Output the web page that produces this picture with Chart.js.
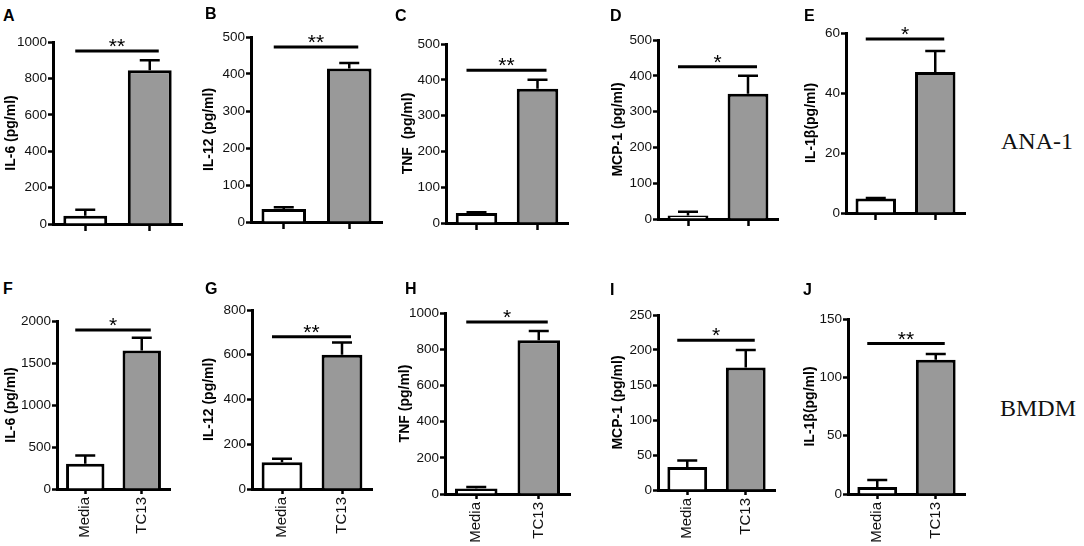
<!DOCTYPE html>
<html>
<head>
<meta charset="utf-8">
<script src="https://cdn.jsdelivr.net/npm/chart.js@4.4.0/dist/chart.umd.min.js"></script>
<style>
  body { margin: 0; background: #fff; width: 1084px; height: 546px; position: relative; overflow: hidden; }
  canvas { position: absolute; }
  .letter { position: absolute; font: bold 16px "Liberation Sans", Arial, sans-serif; line-height: 1; color: #000; }
  .row-label { position: absolute; font: 24px "Liberation Serif", "Times New Roman", serif; line-height: 1; color: #111; }
</style>
</head>
<body>
<div class="row-label" style="left:1001px;top:129px">ANA-1</div>
<div class="row-label" style="left:1000px;top:396px">BMDM</div>
<script>
// data (panels A-J)
const categories = ['Media', 'TC13'];
const panelLetters = ['A', 'B', 'C', 'D', 'E', 'F', 'G', 'H', 'I', 'J'];
const yTitles = ['IL-6 (pg/ml)', 'IL-12 (pg/ml)', 'TNF  (pg/ml)', 'MCP-1 (pg/ml)', 'IL-1\u03b2(pg/ml)',
                 'IL-6 (pg/ml)', 'IL-12 (pg/ml)', 'TNF (pg/ml)', 'MCP-1 (pg/ml)', 'IL-1\u03b2(pg/ml)'];
const meanValues = [[45, 845], [35, 415], [28, 375], [10, 350], [4.8, 47],
                    [300, 1650], [120, 600], [30, 850], [33, 175], [6, 115]];
const semValues = [[33, 55], [5, 15], [2, 25], [10, 50], [0.2, 7],
                   [100, 150], [15, 55], [8, 50], [9, 25], [6, 5]];
const yMax = [1000, 500, 500, 500, 60, 2000, 800, 1000, 250, 150];
const yStep = [200, 100, 100, 100, 20, 500, 200, 200, 50, 50];
const sigStars = ['**', '**', '**', '*', '*', '*', '**', '*', '*', '**'];
const sigLineY = [950, 473, 427, 425, 58, 1893, 680, 950, 214, 129];

// page layout: y-axis x, top tick y, zero y, x-axis end, title offset, letter pos
const frames = [
    { ax: 53,  top: 42,  zero: 224, end: 182, tx: 42, lx: 3,   ly: 10 },
    { ax: 251, top: 37,  zero: 222, end: 382, tx: 42, lx: 205, ly: 8 },
    { ax: 446, top: 44,  zero: 223, end: 568, tx: 38, lx: 395, ly: 10 },
    { ax: 658, top: 40,  zero: 219, end: 778, tx: 40, lx: 610, ly: 10 },
    { ax: 846, top: 33,  zero: 213, end: 965, tx: 35, lx: 804, ly: 10 },
    { ax: 57,  top: 321, zero: 489, end: 170, tx: 46, lx: 3,   ly: 283 },
    { ax: 252, top: 310, zero: 489, end: 372, tx: 43, lx: 205, ly: 283 },
    { ax: 445, top: 313, zero: 494, end: 570, tx: 40, lx: 405, ly: 283 },
    { ax: 658, top: 315, zero: 490, end: 775, tx: 40, lx: 610, ly: 284 },
    { ax: 848, top: 319, zero: 494, end: 965, tx: 38, lx: 803, ly: 284 }
];

const PAD_TOP = 18, PAD_RIGHT = 6;
const FONT = '"Liberation Sans", Arial, sans-serif';
const INK = '#000';

frames.forEach((f, k) => {
    const bottomRow = k >= 5;
    const yw = f.tx + 8;
    const xh = bottomRow ? 56 : 10;
    const left = f.ax - yw;
    const top = f.top - PAD_TOP;
    const w = f.end - left + PAD_RIGHT;
    const h = f.zero - top + xh;

    const canvas = document.createElement('canvas');
    canvas.width = w;
    canvas.height = h;
    canvas.style.left = left + 'px';
    canvas.style.top = top + 'px';
    document.body.appendChild(canvas);

    const letter = document.createElement('div');
    letter.className = 'letter';
    letter.textContent = panelLetters[k];
    letter.style.left = f.lx + 'px';
    letter.style.top = (f.ly - 2) + 'px';
    document.body.appendChild(letter);

    // error bars (upper only) + significance bar
    const extras = {
        id: 'extras' + k,
        afterDatasetsDraw(chart) {
            const { ctx, scales: { y } } = chart;
            const bars = chart.getDatasetMeta(0).data;
            ctx.save();
            ctx.strokeStyle = INK;
            ctx.lineWidth = 2.5;
            bars.forEach((bar, i) => {
                const y0 = y.getPixelForValue(meanValues[k][i]);
                const y1 = y.getPixelForValue(meanValues[k][i] + semValues[k][i]);
                ctx.beginPath();
                ctx.moveTo(bar.x, y0);
                ctx.lineTo(bar.x, y1);
                ctx.moveTo(bar.x - 10, y1);
                ctx.lineTo(bar.x + 10, y1);
                ctx.stroke();
            });
            const x0 = bars[0].x - 10, x1 = bars[1].x + 9;
            const ys = y.getPixelForValue(sigLineY[k]);
            ctx.lineWidth = 3;
            ctx.beginPath();
            ctx.moveTo(x0, ys);
            ctx.lineTo(x1, ys);
            ctx.stroke();
            ctx.fillStyle = INK;
            ctx.font = '21px ' + FONT;
            ctx.textAlign = 'center';
            ctx.textBaseline = 'alphabetic';
            ctx.fillText(sigStars[k], (x0 + x1) / 2, ys + 2);
            ctx.restore();
        }
    };

    new Chart(canvas, {
        type: 'bar',
        data: {
            labels: categories,
            datasets: [{
                data: meanValues[k],
                backgroundColor: ['#ffffff', '#999999'],
                borderColor: INK,
                borderWidth: 3,
                borderSkipped: 'start',
                categoryPercentage: 1,
                barPercentage: 0.68
            }]
        },
        options: {
            responsive: false,
            animation: false,
            events: [],
            layout: { padding: { top: PAD_TOP, right: PAD_RIGHT, left: 0, bottom: 0 } },
            plugins: { legend: { display: false }, tooltip: { enabled: false } },
            scales: {
                x: {
                    offset: true,
                    border: { display: true, color: INK, width: 3 },
                    grid: { offset: false, drawOnChartArea: false, drawTicks: true,
                            tickLength: bottomRow ? 5 : 7, tickWidth: 2.5, tickColor: INK },
                    ticks: { display: bottomRow, minRotation: 90, maxRotation: 90, padding: 3,
                             color: '#111', font: { family: FONT, size: 15 } },
                    afterFit(s) { s.height = xh; s.paddingLeft = 0; s.paddingRight = 0; }
                },
                y: {
                    min: 0,
                    max: yMax[k],
                    border: { display: true, color: INK, width: 3 },
                    grid: { drawOnChartArea: false, drawTicks: true, tickLength: 5, tickWidth: 2.5, tickColor: INK },
                    ticks: { stepSize: yStep[k], padding: 1, color: '#111',
                             font: { family: FONT, size: 13.5 },
                             callback: v => String(v) },
                    title: { display: true, text: yTitles[k], color: INK, padding: 0,
                             font: { family: FONT, size: 14, weight: 'bold' } },
                    afterFit(s) { s.width = yw; s.paddingTop = 0; s.paddingBottom = 0; }
                }
            }
        },
        plugins: [extras]
    });
});
</script>
</body>
</html>
